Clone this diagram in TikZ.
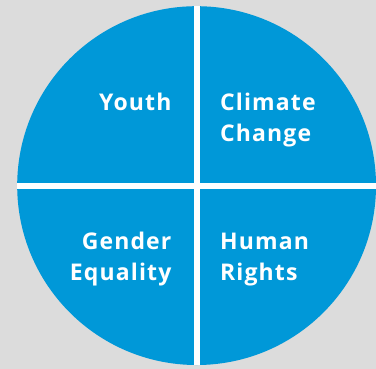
\documentclass[tikz,border=0pt]{standalone}
\usepackage{fontspec}
\setmainfont{Open Sans}[LetterSpace=5]
\definecolor{bggrey}{RGB}{220,220,220}
\definecolor{pieblue}{RGB}{0,152,216}
\begin{document}
\begin{tikzpicture}[x=1pt,y=-1pt,
  quarter/.style={text=white,inner sep=0pt,font=\bfseries\fontsize{23}{31.5}\selectfont}]
\fill[bggrey] (0,0) rectangle (376,369);
\coordinate (c) at (196.7,185.7);
\fill[pieblue] (c) circle (179.5pt);
\begin{scope}
\clip (c) circle (179.5pt);
\draw[white,line width=6pt] (196.7,0) -- (196.7,369);
\draw[white,line width=6pt] (0,185.7) -- (376,185.7);
\end{scope}
\node[quarter,anchor=base east,align=right] (youth) at (171.7,111) {Youth};
\node[quarter,anchor=base west,align=left] (climate) at (220,142) {Climate\\Change};
\node[quarter,anchor=base east,align=right] (gender) at (171.7,281) {Gender\\Equality};
\node[quarter,anchor=base west,align=left] (human) at (220,281) {Human\\Rights};
\end{tikzpicture}
\end{document}
